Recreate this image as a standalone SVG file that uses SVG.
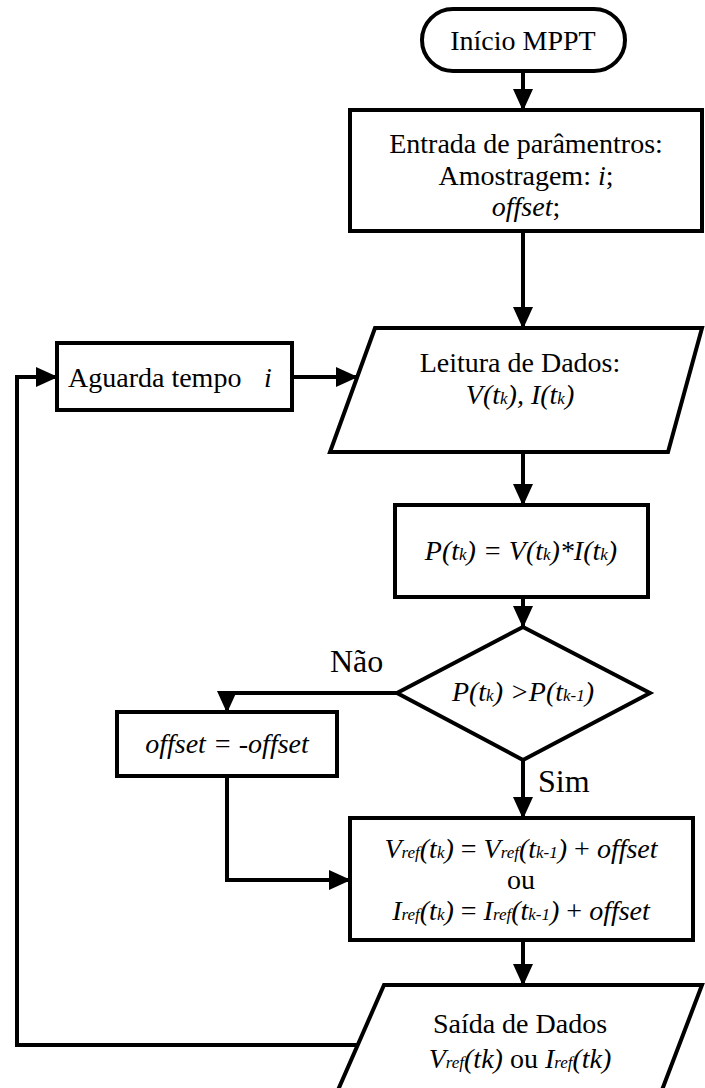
<svg xmlns="http://www.w3.org/2000/svg" width="705" height="1088" viewBox="0 0 705 1088" font-family="'Liberation Serif', 'Times New Roman', serif">
  <style>
    .shape { fill: #ffffff; stroke: #000000; stroke-width: 4; }
    .wire { fill: none; stroke: #000000; stroke-width: 4; }
    .t { font-family: 'Liberation Serif', 'Times New Roman', serif; font-size: 28px; fill: #000000; text-anchor: middle; }
    .tl { font-family: 'Liberation Serif', 'Times New Roman', serif; font-size: 28px; fill: #000000; }
    .lbl { font-family: 'Liberation Serif', 'Times New Roman', serif; font-size: 32px; fill: #000000; }
    .i { font-style: italic; }
    .s { font-size: 17px; font-style: italic; }
  </style>
  <defs>
    <marker id="arrow" viewBox="0 0 22 20" refX="21" refY="10" markerWidth="22" markerHeight="20" markerUnits="userSpaceOnUse" orient="auto">
      <path d="M0,0 L22,10 L0,20 Z" fill="#000000"/>
    </marker>
  </defs>

  <!-- connectors -->
  <g id="connectors">
    <path class="wire" d="M523,71 V110" marker-end="url(#arrow)"/>
    <path class="wire" d="M523,231 V328" marker-end="url(#arrow)"/>
    <path class="wire" d="M292,377 H357" marker-end="url(#arrow)"/>
    <path class="wire" d="M523,452 V505" marker-end="url(#arrow)"/>
    <path class="wire" d="M523,597 V627" marker-end="url(#arrow)"/>
    <path class="wire" d="M397,693 H227 V712" marker-end="url(#arrow)"/>
    <path class="wire" d="M523,760 V818" marker-end="url(#arrow)"/>
    <path class="wire" d="M227,776 V880 H350" marker-end="url(#arrow)"/>
    <path class="wire" d="M523,940 V985" marker-end="url(#arrow)"/>
    <path class="wire" d="M360,1045 H17 V377 H57" marker-end="url(#arrow)"/>
  </g>

  <!-- start terminal -->
  <g id="start">
    <rect class="shape" x="422" y="9" width="203" height="62" rx="31" ry="31"/>
    <text class="t" x="523" y="50">Início MPPT</text>
  </g>

  <!-- parameter input -->
  <g id="params">
    <rect class="shape" x="350" y="110" width="352" height="121"/>
    <text class="t" x="526" y="153">Entrada de parâmentros:</text>
    <text class="t" x="526" y="185">Amostragem: <tspan class="i">i</tspan>;</text>
    <text class="t" x="526" y="216"><tspan class="i">offset</tspan>;</text>
  </g>

  <!-- wait block -->
  <g id="wait">
    <rect class="shape" x="57" y="343" width="235" height="67"/>
    <text class="tl" x="68" y="387">Aguarda tempo<tspan class="i" x="264">i</tspan></text>
  </g>

  <!-- data read -->
  <g id="read">
    <polygon class="shape" points="375,328 702,328 668,452 330,452"/>
    <text class="t" x="520" y="372">Leitura de Dados:</text>
    <text class="t i" x="520" y="404">V(t<tspan class="s">k</tspan>), I(t<tspan class="s">k</tspan>)</text>
  </g>

  <!-- power computation -->
  <g id="power">
    <rect class="shape" x="395" y="505" width="253" height="92"/>
    <text class="t i" x="521" y="560">P(t<tspan class="s">k</tspan>) = V(t<tspan class="s">k</tspan>)*I(t<tspan class="s">k</tspan>)</text>
  </g>

  <!-- decision -->
  <g id="decision">
    <polygon class="shape" points="523,627 650,693 523,760 397,693"/>
    <text class="t i" x="523" y="701">P(t<tspan class="s">k</tspan>) &gt;P(t<tspan class="s">k-1</tspan>)</text>
    <text class="lbl" x="330" y="672">Não</text>
    <text class="lbl" x="538" y="792">Sim</text>
  </g>

  <!-- offset inversion -->
  <g id="invert">
    <rect class="shape" x="117" y="712" width="220" height="64"/>
    <text class="t i" x="227" y="753">offset = -offset</text>
  </g>

  <!-- reference update -->
  <g id="update">
    <rect class="shape" x="350" y="818" width="343" height="122"/>
    <text class="t" x="521" y="858"><tspan class="i">V</tspan><tspan class="s">ref</tspan><tspan class="i">(t</tspan><tspan class="s">k</tspan><tspan class="i">)</tspan> = <tspan class="i">V</tspan><tspan class="s">ref</tspan><tspan class="i">(t</tspan><tspan class="s">k-1</tspan><tspan class="i">)</tspan> + <tspan class="i">offset</tspan></text>
    <text class="t" x="521" y="889">ou</text>
    <text class="t" x="521" y="920"><tspan class="i">I</tspan><tspan class="s">ref</tspan><tspan class="i">(t</tspan><tspan class="s">k</tspan><tspan class="i">)</tspan> = <tspan class="i">I</tspan><tspan class="s">ref</tspan><tspan class="i">(t</tspan><tspan class="s">k-1</tspan><tspan class="i">)</tspan> + <tspan class="i">offset</tspan></text>
  </g>

  <!-- data output -->
  <g id="output">
    <polygon class="shape" points="384,985 702,985 662,1090 338,1090"/>
    <text class="t" x="520" y="1033">Saída de Dados</text>
    <text class="t" x="520" y="1068"><tspan class="i">V</tspan><tspan class="s">ref</tspan><tspan class="i">(tk)</tspan> ou <tspan class="i">I</tspan><tspan class="s">ref</tspan><tspan class="i">(tk)</tspan></text>
  </g>
</svg>
